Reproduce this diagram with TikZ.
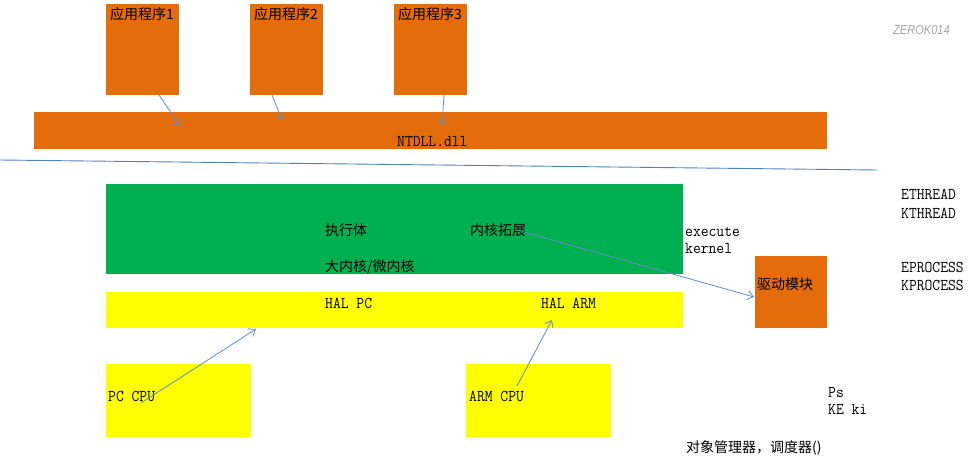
\documentclass[tikz,border=0pt]{standalone}
\usepackage{fontspec}
\usetikzlibrary{arrows.meta}
\setmainfont[FakeStretch=0.92]{Latin Modern Mono}
\newfontfamily\cjk{Noto Sans CJK SC}
\newfontfamily\wmark[FakeStretch=0.85]{Liberation Sans}
\definecolor{orng}{RGB}{228,108,10}
\definecolor{grn}{RGB}{0,176,80}
\definecolor{ylw}{RGB}{255,255,0}
\definecolor{arr}{RGB}{98,138,200}
\definecolor{sep}{RGB}{79,129,189}
\tikzset{
blk/.style={anchor=north west,inner sep=0,outer sep=0,minimum width=#1},
txt/.style={anchor=base west,inner sep=0,font=\fontsize{16.5}{16.5}\selectfont},
ctxt/.style={anchor=base west,inner sep=0,font=\cjk\fontsize{14}{14}\selectfont},
link/.style={draw=arr,line width=.8pt,-{Straight Barb[length=6pt,width=9pt,line width=.8pt]}}
}
\begin{document}
\begin{tikzpicture}[x=1pt,y=-1pt]
\useasboundingbox (0,0) rectangle (972,468);
% boxes
\node[blk=73,fill=orng,minimum height=91] (app1) at (106,4) {};
\node[blk=73,fill=orng,minimum height=91] (app2) at (250,4) {};
\node[blk=73,fill=orng,minimum height=91] (app3) at (394,4) {};
\node[blk=793,fill=orng,minimum height=37] (ntdll) at (34,112) {};
\node[blk=577,fill=grn,minimum height=90] (exec) at (106,184) {};
\node[blk=577,fill=ylw,minimum height=36] (hal) at (106,292) {};
\node[blk=72,fill=orng,minimum height=72] (drv) at (755,256) {};
\node[blk=145,fill=ylw,minimum height=73] (pccpu) at (106,364) {};
\node[blk=145,fill=ylw,minimum height=73] (armcpu) at (466,364) {};
% texts
\node[ctxt] (t1) at (110,20) {应用程序1};
\node[ctxt] (t2) at (254,20) {应用程序2};
\node[ctxt] (t3) at (398,20) {应用程序3};
\node[txt] (tn) at (397,147) {NTDLL.dll};
\node[ctxt] (te) at (325,235) {执行体};
\node[ctxt] (tk) at (470,235) {内核拓展};
\node[ctxt] (tm) at (325,271) {大内核/微内核};
\node[txt] (tx) at (685,236) {execute};
\node[txt] (tl) at (685,253) {kernel};
\node[txt] (th1) at (325,308) {HAL PC};
\node[txt] (th2) at (541,308) {HAL ARM};
\node[ctxt] (td) at (757,289) {驱动模块};
\node[txt] (tp) at (108,401) {PC CPU};
\node[txt] (ta) at (469,401) {ARM CPU};
\node[txt] (r1) at (901,200) {ETHREAD};
\node[txt] (r2) at (901,218) {KTHREAD};
\node[txt] (r3) at (901,272) {EPROCESS};
\node[txt] (r4) at (901,290) {KPROCESS};
\node[txt] (r5) at (828,397) {Ps};
\node[txt] (r6) at (828,414) {KE ki};
\node[ctxt] (r7) at (686,452) {对象管理器，调度器()};
\node[anchor=base west,inner sep=0,text=black!35,font=\wmark\itshape\fontsize{13}{13}\selectfont] (wm) at (893,35) {ZEROK014};
% separator
\coordinate (s1) at (0,160);
\coordinate (s2) at (877,170);
\draw[sep,line width=.9pt] (s1)--(s2);
% arrows
\coordinate (a1) at (159,95); \coordinate (b1) at (180,126);
\coordinate (a2) at (272,95); \coordinate (b2) at (282,120);
\coordinate (a3) at (444,95); \coordinate (b3) at (442,125);
\coordinate (a4) at (517,230); \coordinate (b4) at (754,297);
\coordinate (a5) at (141,403); \coordinate (b5) at (256,329);
\coordinate (a6) at (517,386); \coordinate (b6) at (552,320);
\draw[link] (a1)--(b1);
\draw[link] (a2)--(b2);
\draw[link] (a3)--(b3);
\draw[link] (a4)--(b4);
\draw[link] (a5)--(b5);
\draw[link] (a6)--(b6);
\end{tikzpicture}
\end{document}
